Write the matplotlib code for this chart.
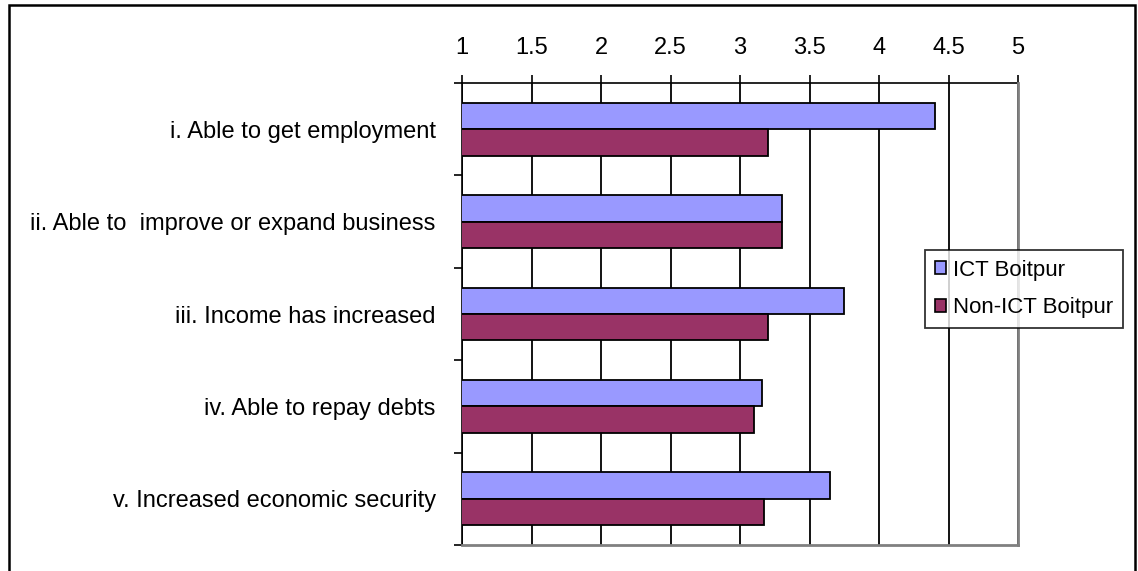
import numpy as np
import matplotlib.pyplot as plt
from matplotlib.patches import Rectangle
from matplotlib.ticker import FixedLocator, NullFormatter

plt.rcParams.update(
    {
        "font.family": ["Liberation Sans", "DejaVu Sans"],
        "font.size": 17,
    }
)

statements = [
    "i. Able to get employment",
    "ii. Able to  improve or expand business",
    "iii. Income has increased",
    "iv. Able to repay debts",
    "v. Increased economic security",
]
ict_scores = [4.40, 3.30, 3.75, 3.16, 3.65]
non_ict_scores = [3.20, 3.30, 3.20, 3.10, 3.17]
series_names = ["ICT Boitpur", "Non-ICT Boitpur"]
x_ticks = [1, 1.5, 2, 2.5, 3, 3.5, 4, 4.5, 5]
x_tick_labels = ["1", "1.5", "2", "2.5", "3", "3.5", "4", "4.5", "5"]

fig = plt.figure(figsize=(11.38, 5.71), dpi=100)
ax = fig.add_axes([0.406, 0.0455, 0.4886, 0.809])

# Excel-style gap width of 75%: the two bars fill 1/1.75 of each slot
bar_h = 1 / 1.75 / 2
pos = np.arange(len(statements))
ax.barh(pos - bar_h / 2, ict_scores, height=bar_h, color="#9999FF",
        edgecolor="black", linewidth=1.3, label=series_names[0], zorder=3)
ax.barh(pos + bar_h / 2, non_ict_scores, height=bar_h, color="#993366",
        edgecolor="black", linewidth=1.3, label=series_names[1], zorder=3)

ax.set_xlim(1, 5)
ax.set_ylim(len(statements) - 0.5, -0.5)

ax.xaxis.tick_top()
ax.set_xticks(x_ticks)
ax.set_xticklabels(x_tick_labels)
ax.tick_params(axis="x", direction="out", length=6, width=1.2, pad=11,
               colors="black")
ax.grid(axis="x", color="black", linewidth=1.3)
ax.set_axisbelow(True)

# category boundaries get tick marks, the names sit between them
ax.yaxis.set_major_locator(FixedLocator(np.arange(len(statements) + 1) - 0.5))
ax.yaxis.set_major_formatter(NullFormatter())
ax.yaxis.set_minor_locator(FixedLocator(pos))
ax.set_yticklabels(statements, minor=True)
ax.tick_params(axis="y", which="major", direction="out", length=6, width=1.2)
ax.tick_params(axis="y", which="minor", length=0, pad=19)

for side in ["top", "left"]:
    ax.spines[side].set_color("black")
    ax.spines[side].set_linewidth(1.2)
for side in ["right", "bottom"]:
    ax.spines[side].set_color("#808080")
    ax.spines[side].set_linewidth(2)
    ax.spines[side].set_zorder(4)

leg = ax.legend(
    loc="center",
    bbox_to_anchor=(1024 / 1138, 1 - 289 / 571),
    bbox_transform=fig.transFigure,
    fontsize=16,
    frameon=True,
    fancybox=False,
    edgecolor="black",
    handlelength=0.5,
    handleheight=0.5,
    handletextpad=0.3,
    labelspacing=0.75,
    borderpad=0.45,
    borderaxespad=0,
)
leg.get_frame().set_linewidth(1.3)
for h in leg.legend_handles:
    h.set_linewidth(1.2)

# chart area border, open at the bottom edge of the image
fig.patches.append(
    Rectangle((9 / 1138, -0.05), 1126 / 1138, 1.05 - 5 / 571,
              transform=fig.transFigure, fill=False, edgecolor="black",
              linewidth=1.8, clip_on=False)
)

fig.savefig("out.png", dpi=100)
